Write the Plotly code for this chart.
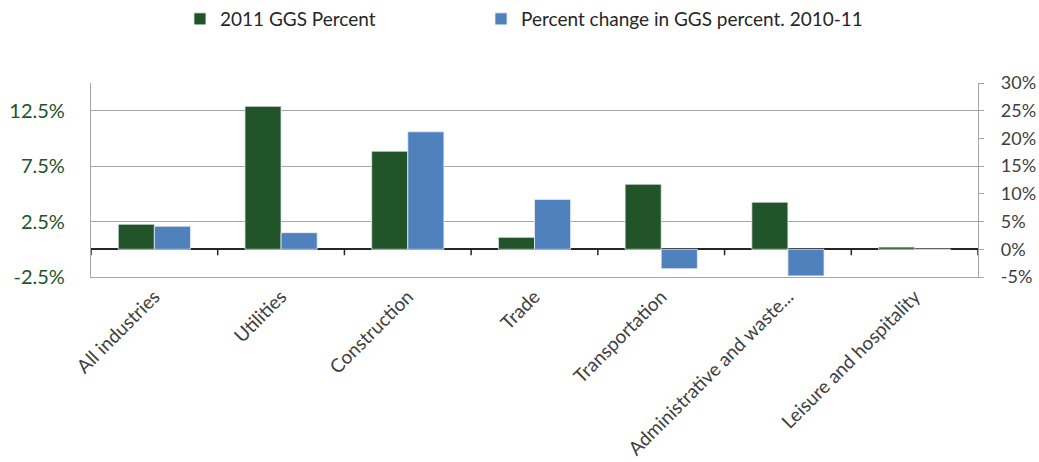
import plotly.graph_objects as go

categories = ["All industries", "Utilities", "Construction", "Trade",
              "Transportation", "Administrative and waste...", "Leisure and hospitality"]
ggs_2011 = [2.26, 12.9, 8.85, 1.08, 5.87, 4.25, 0.2]
pct_change = [4.15, 3.0, 21.2, 9.0, -3.5, -4.8, 0.0]
left_ticks = [-2.5, 2.5, 7.5, 12.5]
right_ticks = [-5, 0, 5, 10, 15, 20, 25, 30]

GREEN = "#215428"
BLUE = "#4F81BD"
GRID = "#A6A6A6"
FONT = "Lato"

fig = go.Figure()
fig.add_trace(go.Bar(x=categories, y=ggs_2011, name="2011 GGS Percent",
                     marker=dict(color=GREEN, line=dict(color="#E8EEF4", width=0.8)),
                     offsetgroup="a", yaxis="y", legend="legend"))
fig.add_trace(go.Bar(x=categories, y=pct_change, name="Percent change in GGS percent. 2010-11",
                     marker=dict(color=BLUE, line=dict(color="#E8EEF4", width=0.8)),
                     offsetgroup="b", yaxis="y2", legend="legend2"))

shapes = []
for i in range(len(categories) + 1):
    shapes.append(dict(type="line", xref="x", yref="y", x0=i - 0.5, x1=i - 0.5,
                       ysizemode="pixel", yanchor=0, y0=0, y1=-6,
                       line=dict(color="#262626", width=1.5)))

legend_common = dict(orientation="h", xanchor="left", y=1.0, yanchor="top",
                     yref="container", font=dict(size=19, color="#262626", family=FONT),
                     bgcolor="rgba(0,0,0,0)")

fig.update_layout(
    width=1039, height=462,
    margin=dict(l=91, r=61, t=83, b=185, pad=0, autoexpand=False),
    plot_bgcolor="white", paper_bgcolor="white",
    barmode="group", bargap=0.43, bargroupgap=0,
    font=dict(family=FONT, color="#404040"),
    showlegend=True,
    legend=dict(x=0.1003, **legend_common),
    legend2=dict(x=0.4397, **legend_common),
    xaxis=dict(type="category", showgrid=False, showline=True, linecolor=GRID, linewidth=1.3,
               ticks="", tickangle=-45, tickfont=dict(size=19, color="#404040"),
               range=[-0.5, len(categories) - 0.5], automargin=False),
    yaxis=dict(range=[-2.5, 15], tickvals=left_ticks,
               ticktext=[f"{v:.1f}%" for v in left_ticks],
               showgrid=True, gridcolor=GRID, gridwidth=1.3,
               showline=True, linecolor=GRID, linewidth=1.3,
               zeroline=True, zerolinecolor="#262626", zerolinewidth=1.5,
               ticks="", ticklabelstandoff=21, automargin=False,
               tickfont=dict(size=20, color=GREEN)),
    yaxis2=dict(range=[-5, 30], tickvals=right_ticks,
                ticktext=[f"{v}%" for v in right_ticks],
                overlaying="y", side="right", showgrid=False, zeroline=False,
                showline=True, linecolor=GRID, linewidth=1.3,
                ticks="outside", ticklen=5, tickcolor=GRID, tickwidth=1.3,
                ticklabelstandoff=13, automargin=False,
                tickfont=dict(size=18, color="#404040")),
    shapes=shapes,
)

fig.write_html("out.html")
